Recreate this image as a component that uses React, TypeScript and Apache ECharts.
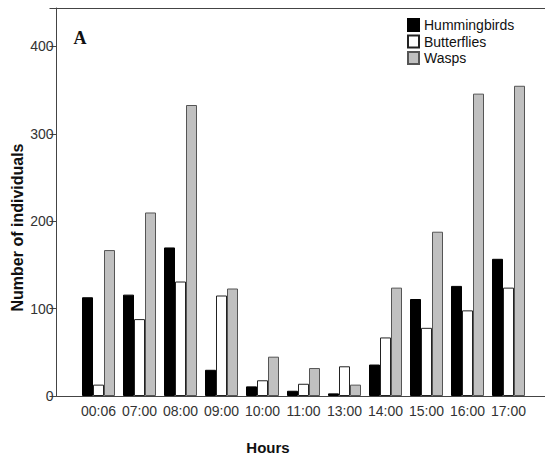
import React, { useEffect, useRef } from "react";
import * as echarts from "echarts";

const hours = ["00:06", "07:00", "08:00", "09:00", "10:00", "11:00", "13:00", "14:00", "15:00", "16:00", "17:00"];
const hummingbirds = [113, 116, 170, 30, 11, 6, 3, 36, 111, 126, 157];
const butterflies = [13, 88, 131, 115, 18, 14, 34, 67, 78, 98, 124];
const wasps = [167, 210, 333, 123, 45, 32, 13, 124, 188, 346, 355];
const yTicks = [0, 100, 200, 300, 400];

export default function App() {
  const ref = useRef<HTMLDivElement>(null);
  useEffect(() => {
    if (!ref.current) return;
    const chart = echarts.init(ref.current, null, { renderer: "svg" });
    const font = "'Liberation Sans', Arial, sans-serif";
    const barBase = { type: "bar", barWidth: 11, barGap: "0%", xAxisIndex: 0, yAxisIndex: 0 };
    chart.setOption({
      animation: false,
      backgroundColor: "#fff",
      grid: [
        { left: 78, right: 16, top: 8, bottom: 59 },
        { left: 56.5, right: 0, top: 8, bottom: 59 },
      ],
      legend: {
        orient: "vertical",
        left: 402,
        top: 13,
        icon: "rect",
        itemWidth: 11,
        itemHeight: 12,
        itemGap: 2.5,
        data: ["Hummingbirds", "Butterflies", "Wasps"],
        textStyle: { fontFamily: font, fontSize: 14, color: "#111", lineHeight: 14 },
      },
      xAxis: [
        {
          type: "category",
          gridIndex: 0,
          data: hours,
          axisLine: { lineStyle: { color: "#444", width: 1 } },
          axisTick: { alignWithLabel: true, length: 6, lineStyle: { color: "#444" } },
          axisLabel: { fontFamily: font, fontSize: 14, color: "#333", margin: 8, interval: 0 },
        },
        {
          type: "value",
          gridIndex: 1,
          position: "bottom",
          min: 0,
          max: 1,
          axisLine: { show: true, lineStyle: { color: "#444", width: 1 } },
          axisTick: { show: false },
          axisLabel: { show: false },
          splitLine: { show: false },
        },
        {
          type: "value",
          gridIndex: 1,
          position: "top",
          min: 0,
          max: 1,
          axisLine: { show: true, lineStyle: { color: "#444", width: 1 } },
          axisTick: { show: false },
          axisLabel: { show: false },
          splitLine: { show: false },
        },
      ],
      yAxis: [
        {
          type: "value",
          gridIndex: 0,
          min: 0,
          max: 444,
          interval: 100,
          offset: 21.5,
          axisLine: { show: true, lineStyle: { color: "#444", width: 1 } },
          axisTick: { show: true, length: 7, lineStyle: { color: "#444" } },
          axisLabel: {
            fontFamily: font,
            fontSize: 14,
            color: "#333",
            margin: 3,
            formatter: (v: number) => (yTicks.includes(v) ? String(v) : ""),
          },
          splitLine: { show: false },
        },
        {
          type: "value",
          gridIndex: 1,
          show: false,
          min: 0,
          max: 1,
        },
      ],
      graphic: [
        {
          type: "text",
          x: 80,
          y: 37.5,
          style: {
            text: "A",
            font: "bold 18px 'Liberation Serif', 'Times New Roman', serif",
            fill: "#111",
            align: "center",
            verticalAlign: "middle",
          },
        },
        {
          type: "text",
          x: 268,
          y: 447,
          style: {
            text: "Hours",
            font: "bold 15px 'Liberation Sans', Arial, sans-serif",
            fill: "#111",
            align: "center",
            verticalAlign: "middle",
          },
        },
        {
          type: "text",
          x: 17,
          y: 227.5,
          rotation: Math.PI / 2,
          style: {
            text: "Number of individuals",
            font: "bold 16px 'Liberation Sans', Arial, sans-serif",
            fill: "#111",
            align: "center",
            verticalAlign: "middle",
          },
        },
      ],
      series: [
        {
          ...barBase,
          name: "Hummingbirds",
          data: hummingbirds,
          itemStyle: { color: "#000", borderColor: "#000", borderWidth: 1 },
        },
        {
          ...barBase,
          name: "Butterflies",
          data: butterflies,
          itemStyle: { color: "#fff", borderColor: "#222", borderWidth: 1 },
        },
        {
          ...barBase,
          name: "Wasps",
          data: wasps,
          itemStyle: { color: "#c0c0c0", borderColor: "#555", borderWidth: 1 },
        },
      ],
    });
    return () => chart.dispose();
  }, []);
  return <div ref={ref} style={{ width: 545, height: 455, position: "absolute", left: 0, top: 0 }} />;
}
